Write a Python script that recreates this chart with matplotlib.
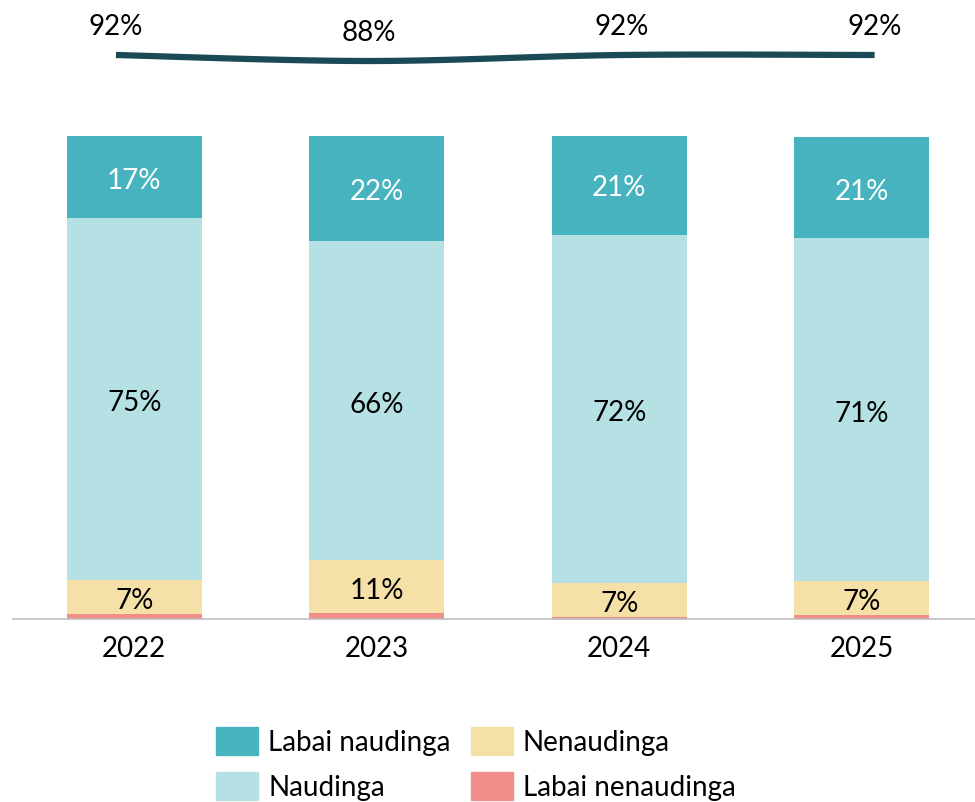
import numpy as np
import matplotlib
matplotlib.use("Agg")
import matplotlib.pyplot as plt
from matplotlib.patches import Patch

plt.rcParams['font.family'] = ['Lato', 'DejaVu Sans']

years = ['2022', '2023', '2024', '2025']
labai_nenaudinga = [1.0, 1.2, 0.5, 0.8]
nenaudinga = [7, 11, 7, 7]
naudinga = [75, 66, 72, 71]
labai_naudinga = [17, 22, 21, 21]
naudinga_total = [92, 88, 92, 92]

series = [
    ('Labai nenaudinga', labai_nenaudinga, '#F28E8A', None),
    ('Nenaudinga', nenaudinga, '#F5E1A8', 'black'),
    ('Naudinga', naudinga, '#B5E1E4', 'black'),
    ('Labai naudinga', labai_naudinga, '#47B3BF', 'white'),
]
line_col = '#1A4A56'
fs = 20

W, H = 975, 802
fig = plt.figure(figsize=(W / 100, H / 100), dpi=100)

# stacked bars
ax = fig.add_axes([13 / W, (H - 619) / H, 962 / W, 483 / H])
x = np.arange(len(years))
bottom = np.zeros(len(years))
for name, vals, col, tcol in series:
    vals = np.array(vals, dtype=float)
    ax.bar(x, vals, 0.556, bottom=bottom, color=col, label=name, zorder=2)
    if tcol:
        for xi, b, v in zip(x, bottom, vals):
            ax.annotate(f'{v:.0f}%', (xi, b + v / 2), xytext=(0, -3),
                        textcoords='offset points', ha='center', va='center',
                        color=tcol, fontsize=fs, zorder=3)
    bottom += vals

ax.set_xlim(-0.5, 3.467)
ax.set_ylim(0, 100)
ax.set_xticks(x)
ax.set_xticklabels(years, fontsize=fs)
ax.tick_params(axis='x', length=0, pad=12)
ax.set_yticks([])
for s in ['top', 'right', 'left']:
    ax.spines[s].set_visible(False)
ax.spines['bottom'].set_color('#BFBFBF')
ax.spines['bottom'].set_linewidth(1.2)

# total line (smoothed) on top
lax = fig.add_axes([13 / W, (H - 73) / H, 962 / W, 30 / H])
lax.set_xlim(-0.407, 3.397)
lax.set_ylim(80, 100)
lax.axis('off')

px = np.arange(len(naudinga_total), dtype=float)
py = np.array(naudinga_total, dtype=float)
# Catmull-Rom curve through the points
P = np.vstack([px, py]).T
P = np.vstack([P[0], P, P[-1]])
cx, cy = [], []
t = np.linspace(0, 1, 40)
for i in range(1, len(P) - 2):
    p0, p1, p2, p3 = P[i - 1], P[i], P[i + 1], P[i + 2]
    for tt in t:
        c = 0.5 * ((2 * p1) + (-p0 + p2) * tt + (2 * p0 - 5 * p1 + 4 * p2 - p3) * tt ** 2
                   + (-p0 + 3 * p1 - 3 * p2 + p3) * tt ** 3)
        cx.append(c[0])
        cy.append(c[1])
lax.plot(cx, cy, color=line_col, lw=4.5, solid_capstyle='butt', clip_on=False)
for xi, v in zip(px, py):
    lax.annotate(f'{v:.0f}%', (xi, v), xytext=(0, 20), textcoords='offset points',
                 ha='center', va='center', fontsize=fs, annotation_clip=False)

# legend
handles = [Patch(color='#47B3BF'), Patch(color='#B5E1E4'),
           Patch(color='#F5E1A8'), Patch(color='#F28E8A')]
labels = ['Labai naudinga', 'Naudinga', 'Nenaudinga', 'Labai nenaudinga']
fig.legend(handles, labels, ncol=2, loc='center', bbox_to_anchor=(476 / W, (H - 764) / H),
           frameon=False, fontsize=fs, handlelength=1.5, handleheight=1.15,
           handletextpad=0.36, columnspacing=0.75, labelspacing=0.6)

fig.savefig('out.png', dpi=100)
